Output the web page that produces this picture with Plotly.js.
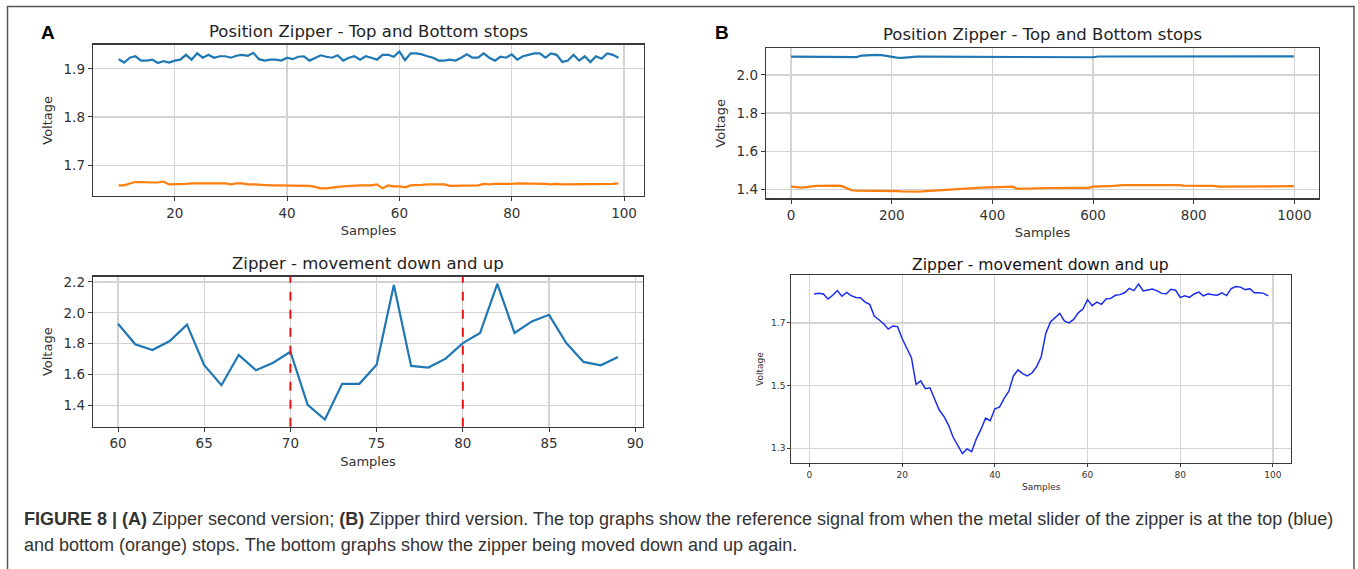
<!DOCTYPE html>
<html><head><meta charset="utf-8">
<script src="https://cdn.plot.ly/plotly-3.0.1.min.js"></script>
<style>html,body{margin:0;padding:0;background:#fff;}#chart{width:1358px;height:569px;}</style>
</head><body><div id="chart"></div>
<script>
// ---- Panel A, top: reference at top (blue) and bottom (orange) stops ----
const aTopSamples = [10,11,12,13,14,15,16,17,18,19,20,21,22,23,24,25,26,27,28,29,30,31,32,33,34,35,36,37,38,39,40,41,42,43,44,45,46,47,48,49,50,51,52,53,54,55,56,57,58,59,60,61,62,63,64,65,66,67,68,69,70,71,72,73,74,75,76,77,78,79,80,81,82,83,84,85,86,87,88,89,90,91,92,93,94,95,96,97,98,99];
const aTopBlue = [1.920,1.913,1.923,1.926,1.917,1.917,1.919,1.912,1.916,1.913,1.917,1.919,1.929,1.919,1.932,1.923,1.929,1.923,1.926,1.926,1.923,1.927,1.929,1.927,1.933,1.920,1.917,1.919,1.919,1.917,1.923,1.920,1.925,1.926,1.917,1.923,1.928,1.925,1.923,1.928,1.917,1.923,1.926,1.919,1.926,1.923,1.919,1.929,1.929,1.925,1.936,1.918,1.932,1.932,1.930,1.926,1.923,1.917,1.917,1.919,1.917,1.923,1.930,1.923,1.923,1.932,1.923,1.917,1.925,1.923,1.930,1.919,1.926,1.929,1.932,1.932,1.923,1.932,1.929,1.914,1.917,1.929,1.917,1.926,1.914,1.926,1.921,1.932,1.929,1.923];
const aTopOrange = [1.658,1.658,1.662,1.665,1.665,1.664,1.664,1.664,1.666,1.660,1.660,1.661,1.661,1.662,1.662,1.662,1.662,1.662,1.661,1.662,1.660,1.662,1.662,1.660,1.660,1.659,1.659,1.658,1.658,1.658,1.658,1.658,1.658,1.657,1.657,1.655,1.652,1.652,1.654,1.655,1.656,1.657,1.657,1.658,1.658,1.658,1.660,1.652,1.658,1.656,1.656,1.654,1.658,1.658,1.659,1.660,1.660,1.660,1.660,1.657,1.657,1.658,1.658,1.657,1.658,1.661,1.660,1.661,1.661,1.660,1.661,1.662,1.662,1.662,1.661,1.661,1.661,1.660,1.661,1.660,1.660,1.660,1.661,1.660,1.660,1.660,1.660,1.660,1.661,1.662];

// ---- Panel A, bottom: movement down and up ----
const aBotSamples = [60,61,62,63,64,65,66,67,68,69,70,71,72,73,74,75,76,77,78,79,80,81,82,83,84,85,86,87,88,89];
const aBotVoltage = [1.929,1.796,1.759,1.817,1.923,1.660,1.531,1.727,1.628,1.677,1.748,1.404,1.308,1.540,1.540,1.664,2.180,1.656,1.645,1.703,1.804,1.869,2.187,1.869,1.944,1.987,1.804,1.682,1.660,1.714];
const aBotMarkers = [70, 80];

// ---- Panel B, top: reference at top (blue) and bottom (orange) stops ----
const bTopSamples = [0,10,20,30,40,50,60,70,80,90,100,110,120,130,140,150,160,170,180,190,200,210,220,230,240,250,260,270,280,290,300,310,320,330,340,350,360,370,380,390,400,410,420,430,440,450,460,470,480,490,500,510,520,530,540,550,560,570,580,590,600,610,620,630,640,650,660,670,680,690,700,710,720,730,740,750,760,770,780,790,800,810,820,830,840,850,860,870,880,890,900,910,920,930,940,950,960,970,980,990,999];
const bTopBlue = [2.096,2.096,2.096,2.096,2.096,2.096,2.096,2.096,2.096,2.096,2.096,2.096,2.096,2.094,2.102,2.104,2.105,2.105,2.104,2.100,2.093,2.091,2.090,2.092,2.096,2.096,2.096,2.096,2.096,2.096,2.096,2.096,2.096,2.096,2.096,2.096,2.096,2.096,2.096,2.096,2.096,2.096,2.096,2.096,2.096,2.096,2.096,2.096,2.096,2.093,2.093,2.093,2.093,2.093,2.093,2.093,2.093,2.093,2.093,2.093,2.093,2.097,2.097,2.097,2.097,2.097,2.097,2.097,2.097,2.097,2.097,2.097,2.097,2.097,2.097,2.097,2.097,2.097,2.097,2.097,2.097,2.097,2.097,2.097,2.097,2.098,2.098,2.098,2.098,2.098,2.098,2.098,2.098,2.098,2.098,2.098,2.098,2.098,2.098,2.098,2.098];
const bTopOrange = [1.414,1.410,1.409,1.412,1.416,1.418,1.418,1.419,1.419,1.419,1.418,1.405,1.395,1.393,1.393,1.393,1.393,1.393,1.393,1.393,1.393,1.391,1.389,1.388,1.388,1.388,1.389,1.391,1.393,1.395,1.397,1.399,1.401,1.403,1.405,1.406,1.407,1.408,1.409,1.410,1.413,1.414,1.414,1.414,1.414,1.403,1.404,1.406,1.406,1.407,1.407,1.407,1.407,1.408,1.408,1.408,1.408,1.408,1.408,1.408,1.414,1.416,1.416,1.417,1.418,1.421,1.422,1.422,1.422,1.422,1.422,1.424,1.425,1.424,1.424,1.423,1.423,1.422,1.420,1.419,1.418,1.418,1.418,1.418,1.418,1.414,1.414,1.414,1.415,1.415,1.414,1.414,1.415,1.415,1.415,1.415,1.415,1.415,1.416,1.416,1.417];

// ---- Panel B, bottom: movement down and up ----
const bBotSamples = [1,2,3,4,5,6,7,8,9,10,11,12,13,14,15,16,17,18,19,20,21,22,23,24,25,26,27,28,29,30,31,32,33,34,35,36,37,38,39,40,41,42,43,44,45,46,47,48,49,50,51,52,53,54,55,56,57,58,59,60,61,62,63,64,65,66,67,68,69,70,71,72,73,74,75,76,77,78,79,80,81,82,83,84,85,86,87,88,89,90,91,92,93,94,95,96,97,98,99];
const bBotVoltage = [1.792,1.794,1.792,1.776,1.788,1.803,1.785,1.797,1.787,1.781,1.780,1.766,1.759,1.721,1.710,1.697,1.680,1.690,1.688,1.650,1.619,1.589,1.504,1.515,1.490,1.493,1.457,1.422,1.402,1.374,1.335,1.310,1.283,1.298,1.289,1.330,1.360,1.396,1.388,1.426,1.431,1.459,1.481,1.531,1.550,1.538,1.531,1.540,1.560,1.592,1.667,1.703,1.717,1.730,1.706,1.700,1.711,1.732,1.744,1.774,1.755,1.766,1.759,1.776,1.778,1.788,1.790,1.796,1.810,1.803,1.824,1.802,1.805,1.808,1.802,1.794,1.793,1.807,1.804,1.781,1.786,1.781,1.792,1.798,1.786,1.793,1.790,1.788,1.796,1.787,1.809,1.816,1.814,1.806,1.809,1.796,1.796,1.794,1.786];

const W = 1358, H = 569;
const px = v => v / W;
const py = v => 1 - v / H;

const mplFont = 'DejaVu Sans, sans-serif';
const capFont = 'Liberation Sans, Arial, sans-serif';
const gridC = '#d3d3d3';
const lineC = '#3a3a3a';

function axisBase(extra) {
  return Object.assign({
    showline: true, mirror: true, linecolor: lineC, linewidth: 1.3,
    showgrid: true, gridcolor: gridC, gridwidth: 1.3,
    zeroline: false, ticks: 'outside', ticklen: 4, tickcolor: lineC, tickwidth: 1,
    tickfont: {family: mplFont, size: 13.5, color: '#333'},
    fixedrange: true
  }, extra);
}

const traces = [
  {x: aTopSamples, y: aTopBlue, xaxis: 'x', yaxis: 'y', mode: 'lines', line: {color: '#1f77b4', width: 2.2}},
  {x: aTopSamples, y: aTopOrange, xaxis: 'x', yaxis: 'y', mode: 'lines', line: {color: '#ff7f0e', width: 2.2}},
  {x: aBotSamples, y: aBotVoltage, xaxis: 'x2', yaxis: 'y2', mode: 'lines', line: {color: '#1f77b4', width: 2.2}},
  {x: bTopSamples, y: bTopBlue, xaxis: 'x3', yaxis: 'y3', mode: 'lines', line: {color: '#1f77b4', width: 2.2}},
  {x: bTopSamples, y: bTopOrange, xaxis: 'x3', yaxis: 'y3', mode: 'lines', line: {color: '#ff7f0e', width: 2.2}},
  {x: bBotSamples, y: bBotVoltage, xaxis: 'x4', yaxis: 'y4', mode: 'lines', line: {color: '#1a2cf0', width: 1.5}}
];

const shapes = aBotMarkers.map(s => ({
  type: 'line', xref: 'x2', yref: 'y2 domain', x0: s, x1: s, y0: 0, y1: 1,
  line: {color: '#ee1111', width: 2, dash: 'dash'}
}));
shapes.push({type: 'rect', xref: 'paper', yref: 'paper', x0: px(7.5), x1: px(1354), y0: py(600), y1: py(6.5),
  line: {color: '#555', width: 1.5}, fillcolor: 'rgba(0,0,0,0)'});

function ann(text, x, y, size, opts) {
  return Object.assign({text: text, xref: 'paper', yref: 'paper', x: px(x), y: py(y),
    showarrow: false, xanchor: 'center', yanchor: 'middle',
    font: {family: mplFont, size: size, color: '#222'}}, opts || {});
}

const annotations = [
  ann('<b>A</b>', 48, 32, 19, {font: {family: capFont, size: 19, color: '#000'}}),
  ann('<b>B</b>', 722, 32, 19, {font: {family: capFont, size: 19, color: '#000'}}),
  ann('Position Zipper - Top and Bottom stops', 368, 31, 16.5),
  ann('Zipper - movement down and up', 368, 263, 16.5),
  ann('Position Zipper - Top and Bottom stops', 1042, 34, 16.5),
  ann('Zipper - movement down and up', 1040, 265, 15.6, {font: {family: mplFont, size: 15.6, color: '#111'}}),
  ann('<b>FIGURE 8 | (A)</b> Zipper second version; <b>(B)</b> Zipper third version. The top graphs show the reference signal from when the metal slider of the zipper is at the top (blue)', 22, 519, 18,
      {xanchor: 'left', font: {family: capFont, size: 18, color: '#333'}}),
  ann('and bottom (orange) stops. The bottom graphs show the zipper being moved down and up again.', 22, 545, 18,
      {xanchor: 'left', font: {family: capFont, size: 18, color: '#333'}})
];

const layout = {
  width: W, height: H, margin: {l: 0, r: 0, t: 0, b: 0},
  paper_bgcolor: '#fff', plot_bgcolor: '#fff', showlegend: false,
  shapes: shapes, annotations: annotations,
  xaxis: axisBase({domain: [px(93), px(644)], range: [5.45, 103.55], tickvals: [20,40,60,80,100], anchor: 'y',
    title: {text: 'Samples', font: {family: mplFont, size: 13, color: '#333'}, standoff: 6}}),
  yaxis: axisBase({domain: [py(196), py(44.7)], range: [1.636, 1.950], tickvals: [1.7,1.8,1.9], tickformat: '.1f', anchor: 'x',
    title: {text: 'Voltage', font: {family: mplFont, size: 13, color: '#333'}, standoff: 8}}),
  xaxis2: axisBase({domain: [px(93), px(643)], range: [58.55, 90.45], tickvals: [60,65,70,75,80,85,90], anchor: 'y2',
    title: {text: 'Samples', font: {family: mplFont, size: 13, color: '#333'}, standoff: 6}}),
  yaxis2: axisBase({domain: [py(426.7), py(276.7)], range: [1.262, 2.234], tickvals: [1.4,1.6,1.8,2.0,2.2], tickformat: '.1f', anchor: 'x2',
    title: {text: 'Voltage', font: {family: mplFont, size: 13, color: '#333'}, standoff: 8}}),
  xaxis3: axisBase({domain: [px(766), px(1319)], range: [-49.95, 1048.95], tickvals: [0,200,400,600,800,1000], anchor: 'y3',
    title: {text: 'Samples', font: {family: mplFont, size: 13, color: '#333'}, standoff: 6}}),
  yaxis3: axisBase({domain: [py(198.3), py(48.3)], range: [1.353, 2.140], tickvals: [1.4,1.6,1.8,2.0], tickformat: '.1f', anchor: 'x3',
    title: {text: 'Voltage', font: {family: mplFont, size: 13, color: '#333'}, standoff: 8}}),
  xaxis4: axisBase({domain: [px(791.4), px(1291)], range: [-3.9, 103.9], tickvals: [0,20,40,60,80,100], anchor: 'y4',
    linewidth: 1.2, ticklen: 3, tickfont: {family: mplFont, size: 9, color: '#333'},
    title: {text: 'Samples', font: {family: mplFont, size: 9, color: '#333'}, standoff: 4}}),
  yaxis4: axisBase({domain: [py(463), py(275.2)], range: [1.253, 1.852], tickvals: [1.3,1.5,1.7], tickformat: '.1f', anchor: 'x4',
    linewidth: 1.2, ticklen: 3, tickfont: {family: mplFont, size: 9, color: '#333'},
    title: {text: 'Voltage', font: {family: mplFont, size: 9, color: '#333'}, standoff: 6}})
};

Plotly.newPlot('chart', traces, layout, {staticPlot: true, displayModeBar: false});
</script>
</body></html>
